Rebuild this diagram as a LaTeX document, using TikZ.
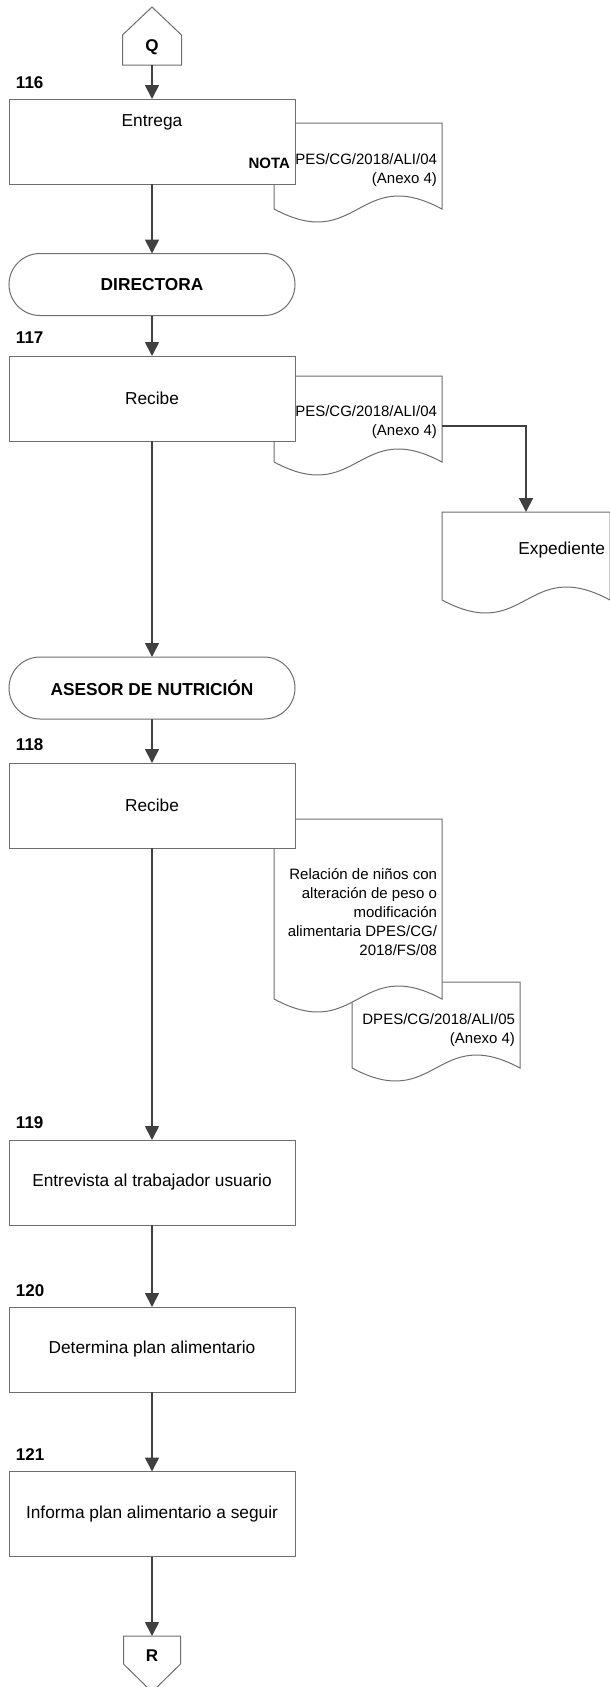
\documentclass[tikz,border=0pt]{standalone}
\usepackage{fontspec}
\setmainfont{Liberation Sans}
\usetikzlibrary{arrows.meta,calc}
\definecolor{edgegray}{HTML}{6E6E6E}
\definecolor{flowgray}{HTML}{404040}

% document symbol with a wavy lower edge, drawn around a named node
\newcommand\wavedoc[1]{%
  \path[shapeline] (#1.north west) -- (#1.north east) -- (#1.south east)
    .. controls ($(#1.south)+(0,-45)$) and ($(#1.south)+(0,45)$) .. (#1.south west) -- cycle;}

\begin{document}
\begin{tikzpicture}[x=1pt,y=-1pt,
  every node/.style={inner sep=0pt, outer sep=0pt},
  shapeline/.style={draw=edgegray, fill=white, line width=1pt},
  stepbox/.style={shapeline, minimum width=286pt, minimum height=85pt,
    font=\fontsize{17.3}{20}\selectfont},
  actor/.style={shapeline, rounded corners=31pt, minimum width=286pt, minimum height=62pt,
    font=\fontsize{17.3}{20}\selectfont\bfseries},
  docarea/.style={minimum width=168pt},
  doctext/.style={align=right, anchor=east, font=\fontsize{15}{18.8}\selectfont},
  stepnum/.style={anchor=west, font=\fontsize{17}{20}\selectfont\bfseries},
  boldtext/.style={font=\fontsize{17}{20}\selectfont\bfseries},
  flow/.style={draw=flowgray, line width=1.8pt, -{Triangle[width=14pt,length=14pt]}},
]
\useasboundingbox (0,0) rectangle (610,1687);

% ---------- documents (drawn first, boxes overlap them) ----------
\node[docarea, minimum height=86pt] (d05) at (436,1025) {};
\wavedoc{d05}
\node[doctext] (t05) at (515,1030) {DPES/CG/2018/ALI/05\\(Anexo 4)};

\node[docarea, minimum height=180pt] (d118) at (358,909) {};
\wavedoc{d118}
\node[doctext] (t118) at (437,912) {Relación de niños con\\alteración de peso o\\modificación\\alimentaria DPES/CG/\\2018/FS/08};

\node[docarea, minimum height=86pt] (d116) at (358,166) {};
\wavedoc{d116}
\node[doctext] (t116) at (437,170.5) {PES/CG/2018/ALI/04\\(Anexo 4)};

\node[docarea, minimum height=86pt] (d117) at (358,419) {};
\wavedoc{d117}
\node[doctext] (t117) at (437,422.5) {PES/CG/2018/ALI/04\\(Anexo 4)};

\node[docarea, minimum height=88pt] (exp) at (526,556) {};
\wavedoc{exp}
\node[doctext, font=\fontsize{17.3}{20}\selectfont] (texp) at (605,550) {Expediente};

% ---------- off-page connectors ----------
\node[minimum width=59pt, minimum height=30pt] (q) at (152,50) {};
\path[shapeline] (q.south west) -- (q.north west) -- ($(q.north)+(0,-28)$) -- (q.north east) -- (q.south east) -- cycle;
\node[boldtext] (qlabel) at (152,47) {Q};

\node[minimum width=57pt, minimum height=28pt] (r) at (152,1650) {};
\path[shapeline] (r.north west) -- (r.north east) -- (r.south east) -- ($(r.south)+(0,28)$) -- (r.south west) -- cycle;
\node[boldtext] (rlabel) at (152,1656) {R};

% ---------- steps ----------
\node[stepnum] (n116) at (16,83) {116};
\node[stepbox] (b116) at (152,141.5) {};
\node (e116) at (152,122) {\fontsize{17.3}{20}\selectfont Entrega};
\node[anchor=east, font=\fontsize{15}{18}\selectfont\bfseries] (nota) at (290,163) {NOTA};

\node[actor] (dir) at (152,284.5) {DIRECTORA};

\node[stepnum] (n117) at (16,338) {117};
\node[stepbox] (b117) at (152,398.5) {Recibe};

\node[actor] (ase) at (152,688) {ASESOR DE NUTRICIÓN};

\node[stepnum] (n118) at (16,745) {118};
\node[stepbox] (b118) at (152,805.5) {Recibe};

\node[stepnum] (n119) at (16,1123) {119};
\node[stepbox] (b119) at (152,1182.5) {Entrevista al trabajador usuario};

\node[stepnum] (n120) at (16,1291) {120};
\node[stepbox] (b120) at (152,1349.5) {Determina plan alimentario};

\node[stepnum] (n121) at (16,1455) {121};
\node[stepbox] (b121) at (152,1514) {Informa plan alimentario a seguir};

% ---------- flow ----------
\draw[flow] (q.south) -- (b116.north);
\draw[flow] (b116.south) -- (dir.north);
\draw[flow] (dir.south) -- (b117.north);
\draw[flow] ([yshift=-7pt]d117.east) -| (exp.north);
\draw[flow] (b117.south) -- (ase.north);
\draw[flow] (ase.south) -- (b118.north);
\draw[flow] (b118.south) -- (b119.north);
\draw[flow] (b119.south) -- (b120.north);
\draw[flow] (b120.south) -- (b121.north);
\draw[flow] (b121.south) -- (r.north);
\end{tikzpicture}
\end{document}
